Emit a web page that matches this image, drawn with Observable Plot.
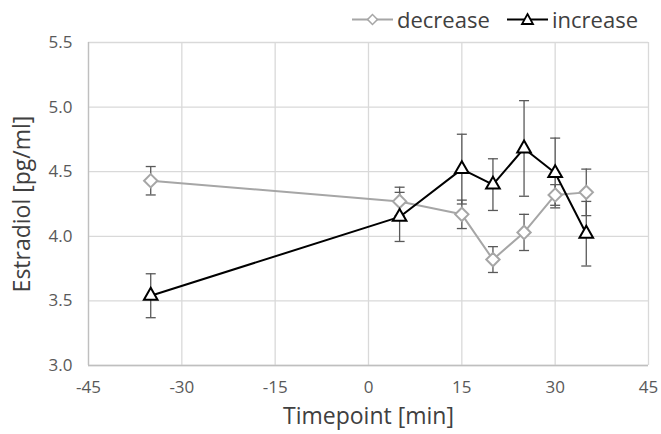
<!DOCTYPE html>
<html><head><meta charset="utf-8">
<script src="https://cdn.jsdelivr.net/npm/d3@7"></script>
<script src="https://cdn.jsdelivr.net/npm/@observablehq/plot@0.6"></script>
<style>
body{margin:0;background:#fff;font-family:"Open Sans",sans-serif}
#wrap{position:relative;width:661px;height:434px}
#legend{position:absolute;left:0;top:0;width:661px;height:40px;font-size:22px;color:#404040}
#legend .item{position:absolute;top:4px;display:flex;align-items:center;gap:4px;line-height:30px}
</style>
</head><body>
<div id="wrap"><div id="c"></div><div id="legend"></div></div>
<script>
const timepoints = [-35, 5, 15, 20, 25, 30, 35];
const decreaseMean = [4.43, 4.27, 4.17, 3.82, 4.03, 4.32, 4.34];
const decreaseErr  = [0.11, 0.11, 0.11, 0.10, 0.14, 0.08, 0.18];
const increaseMean = [3.54, 4.15, 4.52, 4.40, 4.68, 4.49, 4.02];
const increaseErr  = [0.17, 0.19, 0.27, 0.20, 0.37, 0.27, 0.25];
const seriesNames = ["decrease", "increase"];
const xTicks = [-45, -30, -15, 0, 15, 30, 45];
const yTicks = [3.0, 3.5, 4.0, 4.5, 5.0, 5.5];

const colors = {decrease: "#a6a6a6", increase: "#000000"};

const rows = [];
timepoints.forEach((t, i) => {
  rows.push({series: "decrease", t, m: decreaseMean[i], e: decreaseErr[i]});
  rows.push({series: "increase", t, m: increaseMean[i], e: increaseErr[i]});
});
const cap = {draw(ctx, size){ const r = Math.sqrt(size / Math.PI); ctx.moveTo(-r, 0); ctx.lineTo(r, 0); }};

const chart = Plot.plot({
  width: 661, height: 434,
  marginTop: 42, marginBottom: 69, marginLeft: 88, marginRight: 13,
  style: {fontFamily: "Open Sans, sans-serif", fontSize: "17px", color: "#595959", background: "#fff", overflow: "visible"},
  x: {domain: [-45, 45], ticks: xTicks, tickSize: 0, tickPadding: 15, tickFormat: d => String(d), label: "Timepoint [min]", labelArrow: "none", labelAnchor: "center", labelOffset: 58},
  y: {domain: [3.0, 5.5], ticks: yTicks, tickSize: 0, tickPadding: 16, tickFormat: d3.format(".1f"), label: "Estradiol [pg/ml]", labelArrow: "none", labelAnchor: "center", labelOffset: 75},
  marks: [
    Plot.gridX(xTicks, {stroke: "#d9d9d9", strokeOpacity: 1, strokeWidth: 1.3}),
    Plot.gridY(yTicks, {stroke: "#d9d9d9", strokeOpacity: 1, strokeWidth: 1.3}),
    Plot.ruleY([3.0], {stroke: "#bfbfbf", strokeWidth: 1.3}),
    Plot.ruleX([-45], {stroke: "#bfbfbf", strokeWidth: 1.3}),
    Plot.ruleX(rows, {x: "t", y1: d => d.m - d.e, y2: d => d.m + d.e, stroke: "#595959", strokeWidth: 1.3}),
    Plot.dot(rows, {x: "t", y: d => d.m - d.e, symbol: () => cap, r: 5, stroke: "#595959", strokeWidth: 1.3}),
    Plot.dot(rows, {x: "t", y: d => d.m + d.e, symbol: () => cap, r: 5, stroke: "#595959", strokeWidth: 1.3}),
    Plot.line(rows, {x: "t", y: "m", z: "series", stroke: d => colors[d.series], strokeWidth: 2}),
    Plot.dot(rows.filter(d => d.series === "decrease"), {x: "t", y: "m", symbol: () => d3.symbolDiamond2, r: 6, fill: "white", stroke: colors.decrease, strokeWidth: 2}),
    Plot.dot(rows.filter(d => d.series === "increase"), {x: "t", y: "m", symbol: () => d3.symbolTriangle2, r: 6.5, fill: "white", stroke: colors.increase, strokeWidth: 2})
  ]
});
chart.querySelectorAll("[aria-label='x-axis label'], [aria-label='y-axis label']").forEach(g => { g.setAttribute("fill", "#404040"); g.style.fontSize = "23px"; });
document.getElementById("c").appendChild(chart);

const legend = document.getElementById("legend");
const lefts = {decrease: 352, increase: 507};
seriesNames.forEach(s => {
  const it = document.createElement("div");
  it.className = "item";
  it.style.left = lefts[s] + "px";
  const sym = s === "decrease"
    ? `<rect x="17" y="7" width="7" height="7" transform="rotate(45 20.5 10.5)" fill="white" stroke="${colors[s]}" stroke-width="1.5"/>`
    : `<path d="M20.5,5 L26,15 L15,15 Z" fill="white" stroke="${colors[s]}" stroke-width="1.8"/>`;
  it.innerHTML = `<svg width="41" height="21"><line x1="0" x2="41" y1="10.5" y2="10.5" stroke="${colors[s]}" stroke-width="2"/>${sym}</svg><span>${s}</span>`;
  legend.appendChild(it);
});
</script>
</body></html>
